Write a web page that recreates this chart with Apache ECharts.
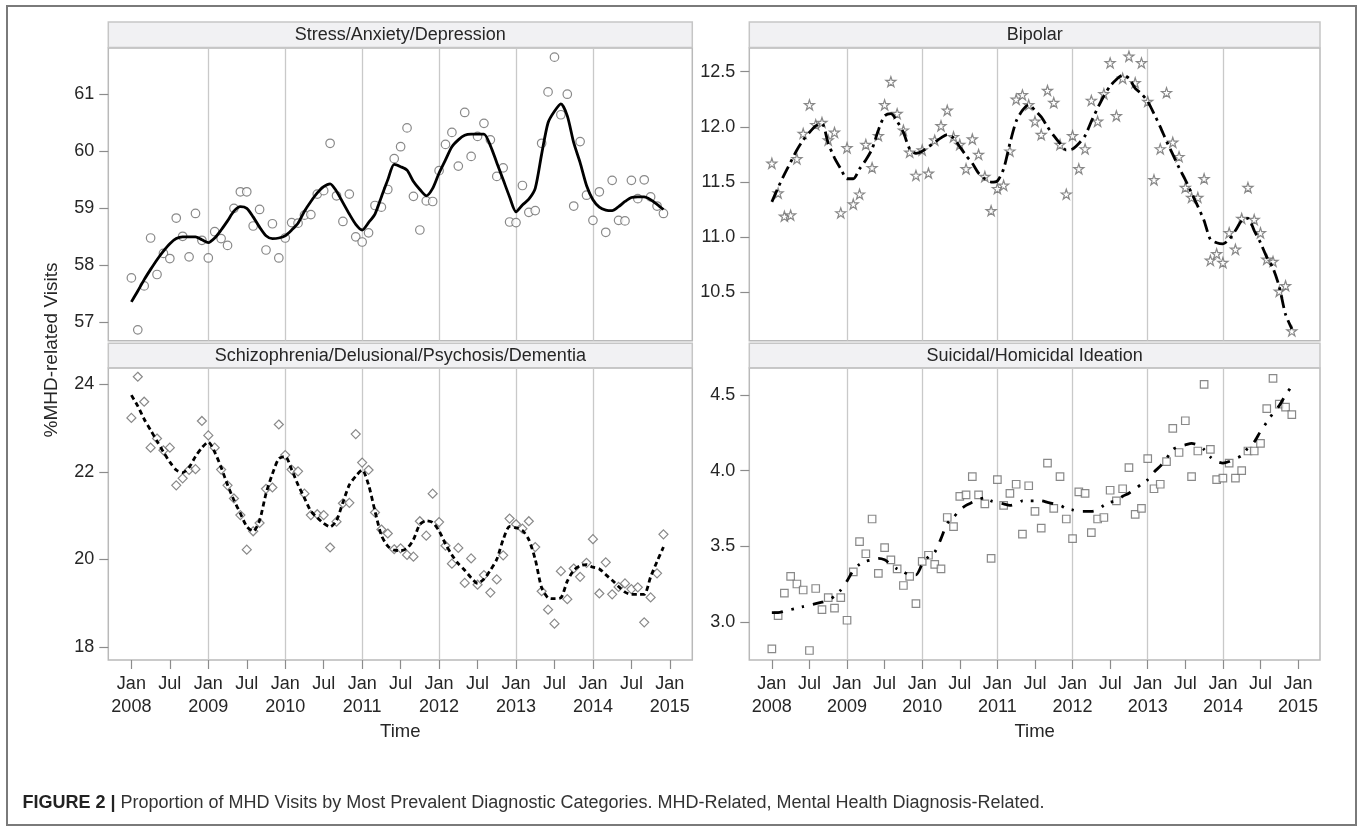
<!DOCTYPE html>
<html>
<head>
<meta charset="utf-8">
<script src="https://cdn.jsdelivr.net/npm/echarts@6/dist/echarts.min.js"></script>
<style>
html,body{margin:0;padding:0;background:#fff;}
#chart{width:1362px;height:827px;}
</style>
</head>
<body>
<div id="chart"></div>
<script>
// ---- Data (month index 0 = Jan 2008 ... 83 = Dec 2014) ----
const panelTitles = ['Stress/Anxiety/Depression', 'Bipolar', 'Schizophrenia/Delusional/Psychosis/Dementia', 'Suicidal/Homicidal Ideation'];

const xTickMonths = [0, 6, 12, 18, 24, 30, 36, 42, 48, 54, 60, 66, 72, 78, 84];
const xTickLabels = ['Jan\n2008', 'Jul', 'Jan\n2009', 'Jul', 'Jan\n2010', 'Jul', 'Jan\n2011', 'Jul', 'Jan\n2012', 'Jul', 'Jan\n2013', 'Jul', 'Jan\n2014', 'Jul', 'Jan\n2015'];
const yearGridMonths = [12, 24, 36, 48, 60, 72];

const stressTicks = [57, 58, 59, 60, 61];
const bipolarTicks = [10.5, 11.0, 11.5, 12.0, 12.5];
const schizoTicks = [18, 20, 22, 24];
const suicidalTicks = [3.0, 3.5, 4.0, 4.5];

const stressPoints = [57.78, 56.87, 57.64, 58.48, 57.84, 58.21, 58.12, 58.83, 58.51, 58.15, 58.91, 58.44,
  58.13, 58.59, 58.47, 58.35, 59.0, 59.29, 59.29, 58.69, 58.98, 58.27, 58.73, 58.13,
  58.48, 58.75, 58.74, 58.88, 58.89, 59.25, 59.31, 60.14, 59.22, 58.77, 59.25, 58.5,
  58.41, 58.57, 59.05, 59.02, 59.33, 59.87, 60.08, 60.41, 59.21, 58.62, 59.13, 59.12,
  59.66, 60.12, 60.33, 59.74, 60.68, 59.91, 60.26, 60.49, 60.2, 59.56, 59.71, 58.76,
  58.75, 59.4, 58.93, 58.96, 60.14, 61.04, 61.65, 60.64, 61.0, 59.04, 60.17, 59.23,
  58.79, 59.29, 58.58, 59.49, 58.79, 58.78, 59.49, 59.17, 59.5, 59.2, 59.04, 58.91];
const stressFit = [57.36, 57.55, 57.75, 57.93, 58.1, 58.25, 58.38, 58.47, 58.5, 58.5, 58.5, 58.45,
  58.4, 58.48, 58.62, 58.78, 58.95, 59.03, 59.0, 58.85, 58.67, 58.52, 58.47, 58.48,
  58.52, 58.62, 58.74, 58.95, 59.12, 59.27, 59.38, 59.43, 59.3, 59.1, 58.9, 58.72,
  58.62, 58.75, 58.9, 59.2, 59.5, 59.77, 59.73, 59.67, 59.47, 59.33, 59.22, 59.35,
  59.62, 59.85, 60.08, 60.2, 60.28, 60.3, 60.3, 60.3, 60.1, 59.8, 59.5, 59.2,
  58.94, 59.06, 59.16, 59.35, 59.95, 60.5, 60.7, 60.83, 60.62, 60.15, 59.8, 59.4,
  59.15, 59.02, 58.97, 58.96, 59.03, 59.12, 59.19, 59.2, 59.2, 59.15, 59.07, 58.98];

const bipolarPoints = [11.67, 11.40, 11.19, 11.20, 11.71, 11.94, 12.20, 12.02, 12.04, 11.88, 11.95, 11.22,
  11.81, 11.30, 11.39, 11.84, 11.63, 11.92, 12.20, 12.41, 12.12, 11.97, 11.77, 11.56,
  11.79, 11.58, 11.88, 12.01, 12.15, 11.91, 11.84, 11.62, 11.89, 11.75, 11.55, 11.24,
  11.44, 11.47, 11.78, 12.25, 12.29, 12.20, 12.05, 11.93, 12.33, 12.22, 11.84, 11.39,
  11.92, 11.62, 11.80, 12.24, 12.05, 12.30, 12.58, 12.10, 12.44, 12.64, 12.40, 12.58,
  12.23, 11.52, 11.80, 12.31, 11.86, 11.73, 11.45, 11.36, 11.36, 11.53, 10.79, 10.85,
  10.77, 11.04, 10.89, 11.17, 11.45, 11.16, 11.04, 10.80, 10.78, 10.51, 10.56, 10.15];
const bipolarFit = [11.32, 11.45, 11.57, 11.68, 11.79, 11.88, 11.95, 12.01, 12.03, 11.85, 11.72, 11.62,
  11.53, 11.53, 11.62, 11.7, 11.8, 11.97, 12.1, 12.12, 12.05, 11.95, 11.8, 11.76,
  11.78, 11.82, 11.86, 11.9, 11.93, 11.9, 11.82, 11.74, 11.67, 11.58, 11.53, 11.5,
  11.51, 11.62, 11.85, 12.05, 12.15, 12.2, 12.15, 12.09, 12.0, 11.92, 11.85, 11.79,
  11.8, 11.85, 11.92, 12.05, 12.17, 12.28, 12.37, 12.43, 12.47, 12.44, 12.35, 12.3,
  12.23, 12.12, 12.0, 11.87, 11.75, 11.63, 11.52, 11.4, 11.28, 11.15, 10.98, 10.95,
  10.94, 10.98, 11.06, 11.15, 11.17, 11.06, 10.95, 10.82, 10.72, 10.55, 10.3, 10.17];

const schizoPoints = [23.23, 24.17, 23.6, 22.55, 22.76, 22.49, 22.55, 21.69, 21.85, 22.04, 22.06, 23.16,
  22.83, 22.55, 22.05, 21.69, 21.39, 21.01, 20.22, 20.64, 20.83, 21.61, 21.64, 23.08,
  22.38, 22.05, 22.01, 21.5, 21.01, 21.03, 21.01, 20.27, 20.86, 21.28, 21.29, 22.86,
  22.21, 22.04, 21.07, 20.68, 20.59, 20.23, 20.25, 20.1, 20.06, 20.87, 20.54, 21.5,
  20.85, 20.31, 19.9, 20.26, 19.46, 20.02, 19.42, 19.64, 19.24, 19.54, 20.09, 20.93,
  20.8, 20.7, 20.87, 20.28, 19.27, 18.85, 18.53, 19.73, 19.09, 19.79, 19.6, 19.92,
  20.46, 19.22, 19.93, 19.2, 19.37, 19.45, 19.32, 19.36, 18.56, 19.13, 19.68, 20.57];
const schizoFit = [23.75, 23.5, 23.2, 22.95, 22.7, 22.45, 22.22, 22.04, 21.98, 22.1, 22.35, 22.55,
  22.68, 22.45, 22.1, 21.7, 21.35, 21.05, 20.75, 20.64, 20.89, 21.5, 21.95, 22.3,
  22.35, 22.05, 21.7, 21.4, 21.1, 20.95, 20.82, 20.74, 20.89, 21.3, 21.7, 21.9,
  22.04, 21.7, 21.1, 20.55, 20.3, 20.21, 20.2, 20.25, 20.45, 20.8, 20.88, 20.84,
  20.65, 20.35, 20.1, 19.9, 19.75, 19.58, 19.45, 19.55, 19.75, 20.0, 20.45, 20.75,
  20.72, 20.66, 20.45, 20.0, 19.35, 19.12, 19.1, 19.12, 19.5, 19.75, 19.85, 19.88,
  19.82, 19.78, 19.65, 19.52, 19.38, 19.25, 19.2, 19.2, 19.2, 19.6, 19.95, 20.28];

const suicidalPoints = [2.82, 3.04, 3.19, 3.30, 3.25, 3.21, 2.81, 3.22, 3.08, 3.16, 3.09, 3.16,
  3.01, 3.33, 3.53, 3.45, 3.68, 3.32, 3.49, 3.41, 3.35, 3.24, 3.30, 3.12,
  3.40, 3.44, 3.38, 3.35, 3.69, 3.63, 3.83, 3.84, 3.96, 3.84, 3.78, 3.42,
  3.94, 3.77, 3.85, 3.91, 3.58, 3.90, 3.73, 3.62, 4.05, 3.75, 3.96, 3.68,
  3.55, 3.86, 3.85, 3.59, 3.68, 3.69, 3.87, 3.80, 3.88, 4.02, 3.71, 3.75,
  4.08, 3.88, 3.91, 4.06, 4.28, 4.12, 4.33, 3.96, 4.13, 4.57, 4.14, 3.94,
  3.95, 4.05, 3.95, 4.00, 4.13, 4.13, 4.18, 4.41, 4.61, 4.44, 4.42, 4.37];
const suicidalFit = [3.06, 3.06, 3.07, 3.08, 3.09, 3.10, 3.11, 3.12, 3.13, 3.14, 3.17, 3.21,
  3.27, 3.34, 3.38, 3.40, 3.41, 3.42, 3.41, 3.38, 3.35, 3.33, 3.31, 3.31,
  3.38, 3.43, 3.46, 3.55, 3.65, 3.69, 3.74, 3.77, 3.79, 3.81, 3.82, 3.80,
  3.79, 3.78, 3.77, 3.78, 3.80, 3.80, 3.80, 3.80, 3.79, 3.78, 3.77, 3.75,
  3.74, 3.73, 3.73, 3.73, 3.74, 3.77, 3.79, 3.80, 3.83, 3.85, 3.88, 3.91,
  3.94, 3.99, 4.03, 4.08, 4.14, 4.16, 4.17, 4.18, 4.17, 4.14, 4.09, 4.06,
  4.05, 4.06, 4.08, 4.10, 4.15, 4.19, 4.26, 4.32, 4.38, 4.43, 4.50, 4.56];

// ---- Layout / style ----
const FONT = '"Liberation Sans", Arial, Helvetica, sans-serif';
const TXT = '#262626';
const L = {x: 108.3, w: 584};
const R = {x: 749.3, w: 570.7};
const TOP = {y: 48, h: 292.7, hy: 22, hh: 25.5};
const BOT = {y: 368, h: 292, hy: 343.2, hh: 24.5};
const XMIN = -3.6, XMAX = 87.5;

const STAR = 'path://M50,2 L61.8,37.6 L99,37.6 L68.9,59.6 L80.4,95.2 L50,73.2 L19.6,95.2 L31.1,59.6 L1,37.6 L38.2,37.6 Z';

const panels = [
  {col: L, row: TOP, pts: stressPoints, fit: stressFit, ticks: stressTicks, dec: 0, min: 56.68, max: 61.81,
   symbol: 'circle', size: 8.5, dash: 'solid', bottom: false},
  {col: R, row: TOP, pts: bipolarPoints, fit: bipolarFit, ticks: bipolarTicks, dec: 1, min: 10.062, max: 12.715,
   symbol: STAR, size: 10, dash: [13, 5, 3, 5], bottom: false},
  {col: L, row: BOT, pts: schizoPoints, fit: schizoFit, ticks: schizoTicks, dec: 0, min: 17.70, max: 24.37,
   symbol: 'diamond', size: 9, dash: [5, 3.5], bottom: true},
  {col: R, row: BOT, pts: suicidalPoints, fit: suicidalFit, ticks: suicidalTicks, dec: 1, min: 2.747, max: 4.679,
   symbol: 'rect', size: 7.5, dash: [11, 9, 2.5, 8, 2.5, 9], bottom: true}
];

const grid = [], xAxis = [], yAxis = [], series = [], graphic = [];

// frame
graphic.push({type: 'rect', shape: {x: 7, y: 6, width: 1349, height: 819},
  style: {fill: 'none', stroke: '#7a7a7a', lineWidth: 2}, silent: true, z: 0});

panels.forEach((p, i) => {
  grid.push({left: p.col.x, top: p.row.y, width: p.col.w, height: p.row.h, containLabel: false,
    show: true, borderColor: '#b9b9b9', borderWidth: 1.5, backgroundColor: '#fff'});
  xAxis.push({
    type: 'value', gridIndex: i, min: XMIN, max: XMAX, position: 'bottom',
    axisLine: {show: false, onZero: false}, splitLine: {show: false},
    axisTick: {show: p.bottom, customValues: xTickMonths, length: 9, lineStyle: {color: '#8c8c8c', width: 1.2}},
    axisLabel: {show: p.bottom, customValues: xTickMonths, margin: 13, fontSize: 18, lineHeight: 23,
      fontFamily: FONT, color: TXT,
      formatter: v => xTickLabels[xTickMonths.indexOf(Math.round(v))] || ''}
  });
  yAxis.push({
    type: 'value', gridIndex: i, min: p.min, max: p.max, position: 'left',
    axisLine: {show: false, onZero: false}, splitLine: {show: false},
    axisTick: {show: true, customValues: p.ticks, length: 9, lineStyle: {color: '#8c8c8c', width: 1.2}},
    axisLabel: {show: true, customValues: p.ticks, margin: 14, fontSize: 18, fontFamily: FONT, color: TXT,
      formatter: v => Number(v).toFixed(p.dec)}
  });
  // header strip
  graphic.push({type: 'rect', shape: {x: p.col.x, y: p.row.hy, width: p.col.w, height: p.row.hh},
    style: {fill: '#f1f1f3', stroke: '#c6c6c6', lineWidth: 1.5}, silent: true, z: 1});
  graphic.push({type: 'text', x: p.col.x + p.col.w / 2, y: p.row.hy + p.row.hh / 2 + 0.5,
    style: {text: panelTitles[i], font: '18px ' + FONT, fill: TXT, textAlign: 'center', textVerticalAlign: 'middle'},
    silent: true, z: 2});

  series.push({
    type: 'scatter', xAxisIndex: i, yAxisIndex: i,
    data: p.pts.map((v, k) => [k, v]),
    symbol: p.symbol, symbolSize: p.size,
    itemStyle: {color: '#ffffff', borderColor: '#6b6b6b', borderWidth: 1.2},
    z: 3,
    markLine: {
      silent: true, symbol: ['none', 'none'], label: {show: false},
      lineStyle: {color: '#c9c9c9', width: 1.3, type: 'solid'},
      emphasis: {disabled: true},
      data: yearGridMonths.map(m => ({xAxis: m})),
      z: 1
    }
  });
  series.push({
    type: 'line', xAxisIndex: i, yAxisIndex: i,
    data: p.fit.map((v, k) => [k, v]),
    showSymbol: false, symbol: 'none', smooth: 0.25,
    lineStyle: {color: '#000', width: 2.8, type: p.dash},
    z: 4
  });
});

// axis titles & caption
graphic.push({type: 'text', x: 52, y: 350, rotation: Math.PI / 2,
  style: {text: '%MHD-related Visits', font: '19px ' + FONT, fill: TXT, textAlign: 'center', textVerticalAlign: 'middle'}, silent: true});
graphic.push({type: 'text', x: L.x + L.w / 2, y: 732,
  style: {text: 'Time', font: '18.5px ' + FONT, fill: TXT, textAlign: 'center', textVerticalAlign: 'middle'}, silent: true});
graphic.push({type: 'text', x: R.x + R.w / 2, y: 732,
  style: {text: 'Time', font: '18.5px ' + FONT, fill: TXT, textAlign: 'center', textVerticalAlign: 'middle'}, silent: true});
graphic.push({type: 'text', x: 22.5, y: 803,
  style: {text: '{b|FIGURE 2 |} Proportion of MHD Visits by Most Prevalent Diagnostic Categories. MHD-Related, Mental Health Diagnosis-Related.',
    font: '18px ' + FONT, fill: '#333', textVerticalAlign: 'middle',
    rich: {b: {fontWeight: 'bold', fontSize: 18, fontFamily: FONT, fill: '#222'}}}, silent: true});

const chart = echarts.init(document.getElementById('chart'), null, {renderer: 'canvas'});
chart.setOption({
  animation: false,
  backgroundColor: '#fff',
  grid, xAxis, yAxis, series, graphic
});
</script>
</body>
</html>
